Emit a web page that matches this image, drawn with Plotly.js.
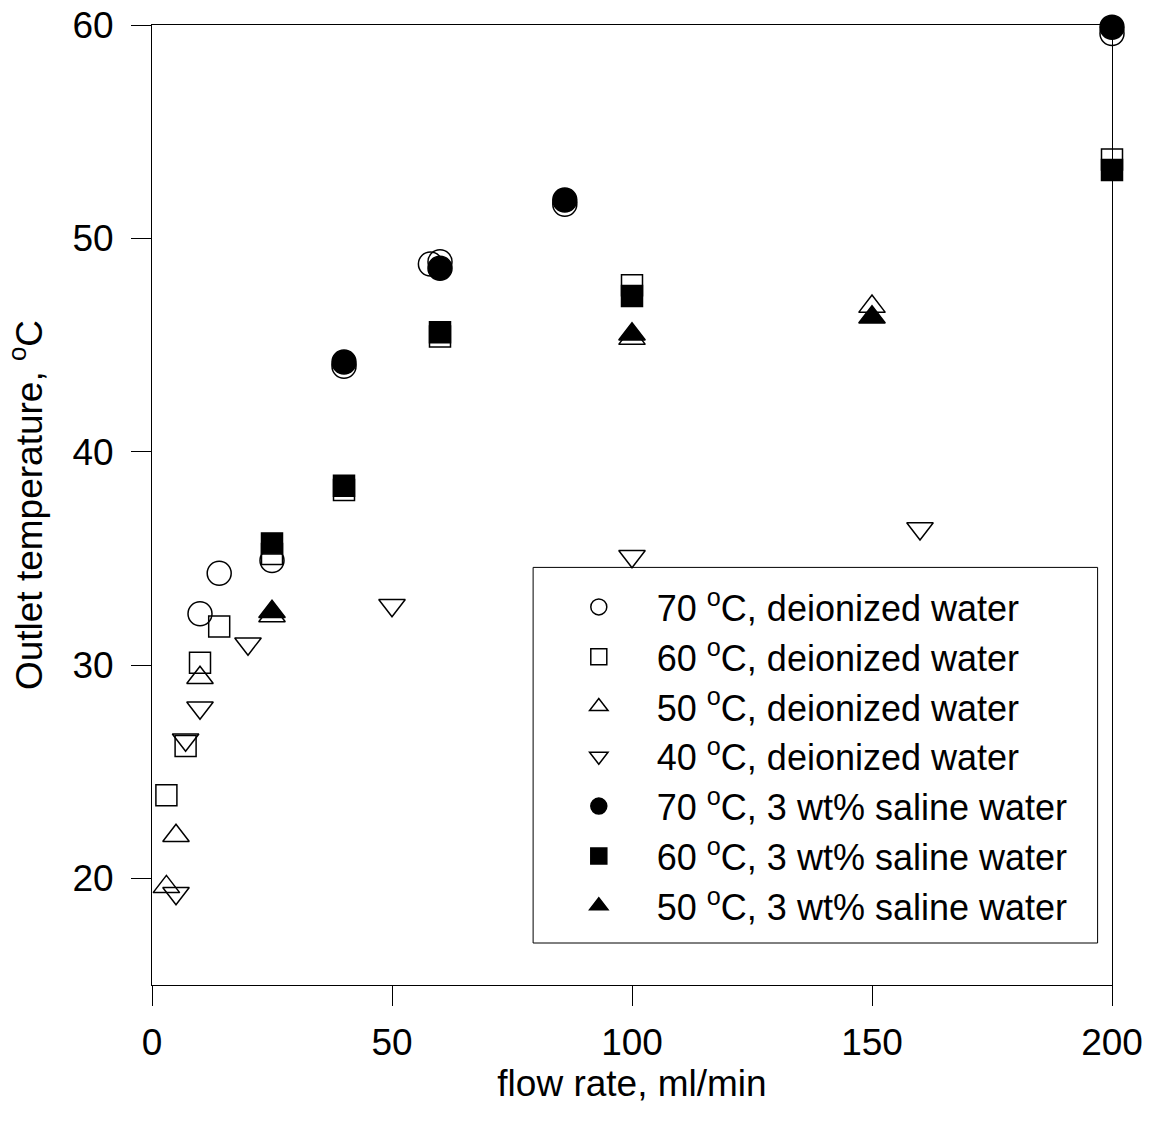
<!DOCTYPE html>
<html>
<head>
<meta charset="utf-8">
<script src="https://cdn.plot.ly/plotly-3.0.1.min.js"></script>
<style>html,body{margin:0;padding:0;background:#fff;}#chart{width:1150px;height:1129px;}</style>
</head>
<body>
<div id="chart"></div>
<script>
// Data
const seriesNames = [
  "70 <sup>o</sup>C, deionized water",
  "60 <sup>o</sup>C, deionized water",
  "50 <sup>o</sup>C, deionized water",
  "40 <sup>o</sup>C, deionized water",
  "70 <sup>o</sup>C, 3 wt% saline water",
  "60 <sup>o</sup>C, 3 wt% saline water",
  "50 <sup>o</sup>C, 3 wt% saline water"
];
const di70X = [10, 14, 25, 40, 58, 60, 86, 200];
const di70Y = [32.4, 34.3, 34.9, 44.0, 48.8, 48.9, 51.6, 59.6];
const di60X = [3, 7, 10, 14, 25, 40, 60, 100, 200];
const di60Y = [23.9, 26.2, 30.1, 31.8, 35.2, 38.2, 45.4, 47.8, 53.7];
const di50X = [3, 5, 10, 25, 100, 150];
const di50Y = [19.6, 22.0, 29.4, 32.3, 45.3, 46.8];
const di40X = [5, 7, 10, 20, 50, 100, 160];
const di40Y = [19.3, 26.5, 28.0, 31.0, 32.8, 35.1, 36.4];
const sal70X = [40, 60, 86, 200];
const sal70Y = [44.2, 48.6, 51.8, 59.9];
const sal60X = [25, 40, 60, 100, 200];
const sal60Y = [35.7, 38.4, 45.6, 47.3, 53.2];
const sal50X = [25, 100, 150];
const sal50Y = [32.5, 45.5, 46.3];
const xTickVals = [0, 50, 100, 150, 200];
const yTickVals = [20, 30, 40, 50, 60];

const FONT = "Liberation Sans, Arial, Helvetica, sans-serif";

function tr(name, xs, ys, symbol, size) {
  return {
    type: "scatter", mode: "markers", name: name, x: xs, y: ys,
    cliponaxis: false,
    marker: {symbol: symbol, size: size, color: "black",
             line: {color: "black", width: 1.5}}
  };
}

const data = [
  tr(seriesNames[0], di70X, di70Y, "circle-open", 24),
  tr(seriesNames[1], di60X, di60Y, "square-open", 21),
  tr(seriesNames[2], di50X, di50Y, "triangle-up-open", 23),
  tr(seriesNames[3], di40X, di40Y, "triangle-down-open", 23),
  tr(seriesNames[4], sal70X, sal70Y, "circle", 24),
  tr(seriesNames[5], sal60X, sal60Y, "square", 21),
  tr(seriesNames[6], sal50X, sal50Y, "triangle-up", 23)
];

const layout = {
  width: 1150, height: 1129,
  margin: {l: 152, r: 38, t: 25, b: 144},
  paper_bgcolor: "#fff", plot_bgcolor: "#fff",
  font: {family: FONT, color: "black", size: 37},
  showlegend: true,
  legend: {
    x: 0.405, xanchor: "left", y: 0.425, yanchor: "top",
    bgcolor: "rgba(0,0,0,0)", borderwidth: 0,
    font: {family: FONT, size: 36, color: "black"},
    itemwidth: 106, tracegroupgap: 0
  },
  shapes: [{
    type: "rect", xref: "paper", yref: "paper",
    x0: 0.397, x1: 0.985, y0: 0.04375, y1: 0.435,
    line: {color: "black", width: 1}, fillcolor: "rgba(0,0,0,0)", layer: "below"
  }],
  xaxis: {
    range: [0, 200], tickvals: xTickVals, ticktext: xTickVals.map(String),
    ticks: "outside", ticklen: 20, tickwidth: 1, tickcolor: "black",
    ticklabelstandoff: 5,
    showline: true, linecolor: "black", linewidth: 1, mirror: true,
    showgrid: false, zeroline: false,
    tickfont: {family: FONT, size: 37, color: "black"},
    title: {text: "flow rate, ml/min", font: {family: FONT, size: 37, color: "black"}, standoff: 7}
  },
  yaxis: {
    range: [15, 60], tickvals: yTickVals, ticktext: yTickVals.map(String),
    ticks: "outside", ticklen: 20, tickwidth: 1, tickcolor: "black",
    ticklabelstandoff: 10,
    showline: true, linecolor: "black", linewidth: 1, mirror: true,
    showgrid: false, zeroline: false,
    tickfont: {family: FONT, size: 37, color: "black"},
    title: {text: "Outlet temperature, <sup>o</sup>C", font: {family: FONT, size: 37, color: "black"}, standoff: 18}
  }
};

Plotly.newPlot("chart", data, layout, {displayModeBar: false, staticPlot: true});
</script>
</body>
</html>
